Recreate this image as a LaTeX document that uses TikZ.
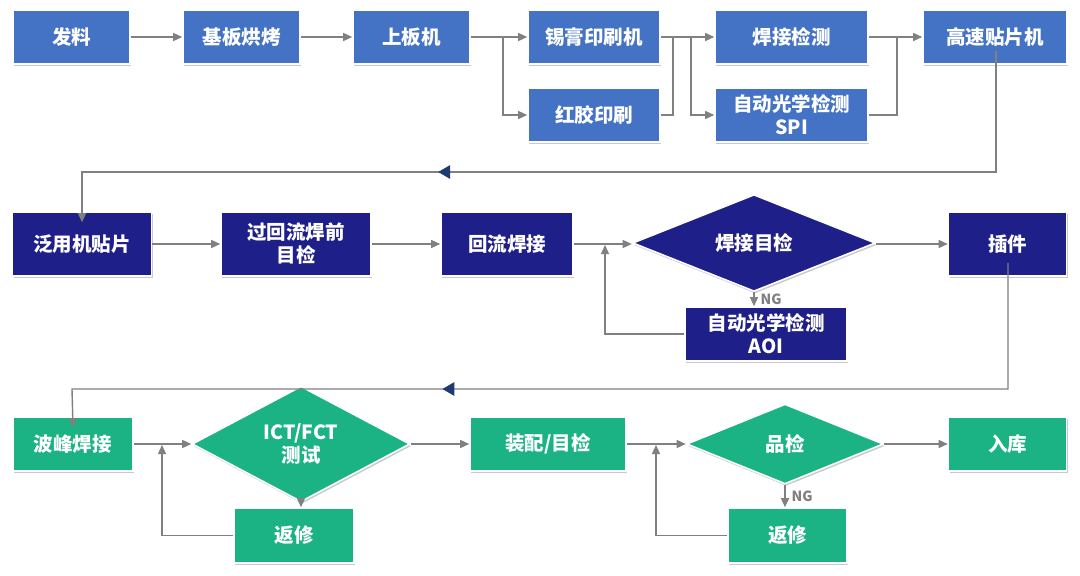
\documentclass[tikz,border=0pt]{standalone}
\usepackage{fontspec}
\setmainfont{Noto Sans CJK SC}
\usetikzlibrary{shapes.geometric,arrows.meta,shadows,decorations.markings}
\definecolor{rowA}{HTML}{4472C4}
\definecolor{rowB}{HTML}{1F1F8A}
\definecolor{rowC}{HTML}{1BB384}
\definecolor{conncol}{HTML}{808080}
\definecolor{tipnavy}{HTML}{1F3A6E}
\tikzset{
  basebox/.style={draw=white, line width=1.6pt, text=white, align=center, inner sep=0pt,
    font=\bfseries\fontsize{19.5}{23}\selectfont,
    drop shadow={shadow xshift=1.2pt, shadow yshift=-2pt, opacity=0.35, fill=black!60}},
  boxA/.style={basebox, rectangle, fill=rowA},
  boxB/.style={basebox, rectangle, fill=rowB},
  boxC/.style={basebox, rectangle, fill=rowC},
  diaB/.style={basebox, diamond, fill=rowB},
  diaC/.style={basebox, diamond, fill=rowC},
  conn/.style={draw=conncol, line width=1.4pt},
  arr/.style={conn, -{Triangle[length=9pt,width=8pt]}},
  navytip/.style={postaction={decorate, decoration={markings,
     mark=at position #1 with {\fill[tipnavy] (3pt,0) -- (-9pt,7pt) -- (-9pt,-7pt) -- cycle;}}}},
  nglabel/.style={text=conncol, font=\bfseries\fontsize{14}{16}\selectfont, inner sep=1pt}
}
\begin{document}
\begin{tikzpicture}[x=1pt,y=-1pt]
\useasboundingbox[fill=white] (0,0) rectangle (1080,576);
% row 1
\node[boxA, minimum width=117pt, minimum height=54pt] (fa) at (71.5,37) {发料};
\node[boxA, minimum width=117pt, minimum height=54pt] (jiban) at (241.5,37) {基板烘烤};
\node[boxA, minimum width=117pt, minimum height=54pt] (shangban) at (411.5,37) {上板机};
\node[boxA, minimum width=132pt, minimum height=54pt] (xigao) at (594,37) {锡膏印刷机};
\node[boxA, minimum width=132pt, minimum height=54pt] (hongjiao) at (594,115) {红胶印刷};
\node[boxA, minimum width=153pt, minimum height=54pt] (hanjie) at (791.5,37) {焊接检测};
\node[boxA, minimum width=153pt, minimum height=54pt] (spi) at (791.5,115) {自动光学检测\\SPI};
\node[boxA, minimum width=144pt, minimum height=54pt] (gaosu) at (995,37) {高速贴片机};
% row 2
\node[boxB, minimum width=139pt, minimum height=64pt] (fan) at (82,244) {泛用机贴片};
\node[boxB, minimum width=150pt, minimum height=64pt] (guo) at (296,244) {过回流焊前\\目检};
\node[boxB, minimum width=132pt, minimum height=64pt] (huiliu) at (507,244) {回流焊接};
\node[diaB, minimum width=243pt, minimum height=83pt] (d1) at (754,243) {焊接目检};
\node[boxB, minimum width=118pt, minimum height=64pt] (chajian) at (1007.5,244) {插件};
\node[boxB, minimum width=162pt, minimum height=54pt] (aoi) at (766,334) {自动光学检测\\AOI};
% row 3
\node[boxC, minimum width=120pt, minimum height=54pt] (bofeng) at (73,444) {波峰焊接};
\node[diaC, minimum width=218pt, minimum height=78pt] (d2) at (301,444) {ICT/FCT\\测试};
\node[boxC, minimum width=120pt, minimum height=55pt] (fx1) at (294,535.5) {返修};
\node[boxC, minimum width=156pt, minimum height=54pt] (zhuang) at (548,444) {装配/目检};
\node[diaC, minimum width=197pt, minimum height=80pt] (d3) at (785,444) {品检};
\node[boxC, minimum width=119pt, minimum height=55pt] (fx2) at (787.5,535.5) {返修};
\node[boxC, minimum width=118pt, minimum height=54pt] (ruku) at (1007.5,444) {入库};
% helper coordinates
\coordinate (s1) at (503,37);
\coordinate (j1) at (673,37);
\coordinate (j2) at (691,37);
\coordinate (j3) at (897,37);
\coordinate (t1) at (996,172);
\coordinate (t2) at (82,172);
\coordinate (l1) at (605,244);
\coordinate (u1) at (1008,389);
\coordinate (u2) at (72,389);
\coordinate (l2) at (162,444);
\coordinate (l3) at (656,444);
% row 1 connectors
\draw[arr] (fa.east) -- (jiban.west);
\draw[arr] (jiban.east) -- (shangban.west);
\draw[arr] (shangban.east) -- (xigao.west);
\draw[arr] (s1) |- (hongjiao.west);
\draw[arr] (xigao.east) -- (hanjie.west);
\draw[conn] (hongjiao.east) -| (j1);
\draw[arr] (j2) |- (spi.west);
\draw[arr] (hanjie.east) -- (gaosu.west);
\draw[conn] (spi.east) -| (j3);
\draw[arr] ([yshift=14pt]t1 |- gaosu.south) -- (t1) -- (t2) -- ([yshift=-11pt]fan.north);
\path[navytip=0.607] (t1) -- (t2);
% row 2 connectors
\draw[arr] (fan.east) -- (guo.west);
\draw[arr] (guo.east) -- (huiliu.west);
\draw[arr] (huiliu.east) -- (huiliu.east -| d1.west);
\draw[arr] (chajian.west -| d1.east) -- (chajian.west);
\draw[arr] (d1.south) -- (d1.south |- aoi.north) node[nglabel, midway, right=5pt] {NG};
\draw[arr] (aoi.west) -| ([yshift=-1pt]l1);
\draw[arr] ([yshift=14pt]u1 |- chajian.south) -- (u1) -- (u2) -- ([yshift=-11pt]bofeng.north);
\path[navytip=0.601] (u1) -- (u2);
% row 3 connectors
\draw[arr] (bofeng.east) -- (d2.west);
\draw[arr] (d2.south) -- (d2.south |- fx1.north);
\draw[arr] (fx1.west) -| ([yshift=-1pt]l2);
\draw[arr] (d2.east) -- (zhuang.west);
\draw[arr] (zhuang.east) -- (d3.west);
\draw[arr] (d3.south) -- (d3.south |- fx2.north) node[nglabel, midway, right=5pt] {NG};
\draw[arr] (fx2.west) -| ([yshift=-1pt]l3);
\draw[arr] (d3.east) -- (ruku.west);
\end{tikzpicture}
\end{document}
